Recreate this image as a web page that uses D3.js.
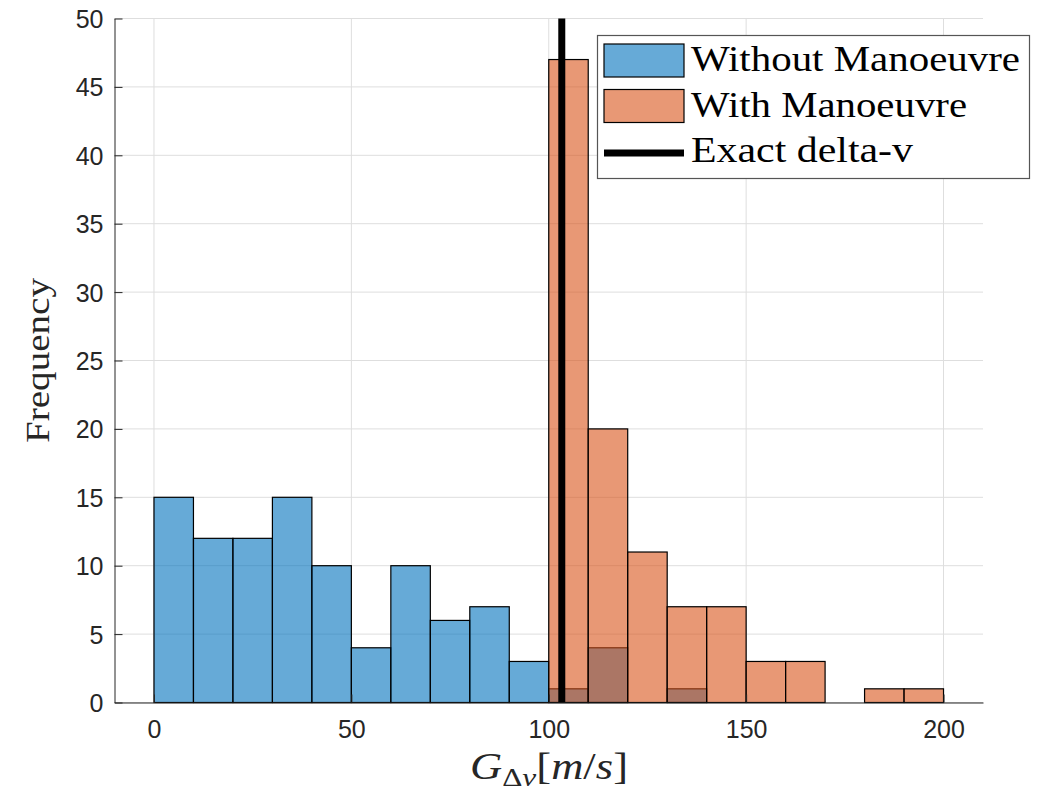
<!DOCTYPE html>
<html>
<head>
<meta charset="utf-8">
<script src="https://cdn.jsdelivr.net/npm/d3@7"></script>
<style>
  html, body { margin: 0; padding: 0; background: #fff; }
  svg { display: block; }
</style>
</head>
<body>
<svg id="chart" width="1045" height="791"></svg>
<script>
// ---- data ----
const binWidth = 10;
const withoutStarts = [0, 10, 20, 30, 40, 50, 60, 70, 80, 90, 100, 110, 120, 130];
const withoutCounts = [15, 12, 12, 15, 10, 4, 10, 6, 7, 3, 1, 4, 0, 1];
const withStarts = [100, 110, 120, 130, 140, 150, 160, 170, 180, 190];
const withCounts = [47, 20, 11, 7, 7, 3, 3, 0, 1, 1];
const exactDeltaV = 103.3;
const xTicks = [0, 50, 100, 150, 200];
const yTicks = [0, 5, 10, 15, 20, 25, 30, 35, 40, 45, 50];
const legendLabels = ["Without Manoeuvre", "With Manoeuvre", "Exact delta-v"];

// ---- layout ----
const svg = d3.select("#chart");
const x = d3.scaleLinear().domain([-10, 210]).range([114.5, 983]);
const y = d3.scaleLinear().domain([0, 50]).range([702.5, 18.5]);
const axisColor = "#262626";
const blue = "#0072BD", orange = "#D95319";

// grid
const grid = svg.append("g");
grid.selectAll("line.gx").data(xTicks).join("line")
  .attr("x1", d => x(d)).attr("x2", d => x(d))
  .attr("y1", y(0)).attr("y2", y(50))
  .attr("stroke", "#dedede").attr("stroke-width", 1);
grid.selectAll("line.gy").data(yTicks).join("line")
  .attr("x1", x(-10)).attr("x2", x(210))
  .attr("y1", d => y(d)).attr("y2", d => y(d))
  .attr("stroke", "#dedede").attr("stroke-width", 1);

// bars
function drawHist(starts, counts, color) {
  svg.append("g").selectAll("rect").data(starts.map((s, i) => ({s, c: counts[i]}))).join("rect")
    .attr("x", d => x(d.s))
    .attr("width", d => x(d.s + binWidth) - x(d.s))
    .attr("y", d => y(d.c))
    .attr("height", d => y(0) - y(d.c))
    .attr("fill", color).attr("fill-opacity", 0.6)
    .attr("stroke", "#000").attr("stroke-width", 1.2);
}
drawHist(withoutStarts, withoutCounts, blue);
drawHist(withStarts, withCounts, orange);

// exact line
svg.append("line")
  .attr("x1", x(exactDeltaV)).attr("x2", x(exactDeltaV))
  .attr("y1", y(50)).attr("y2", y(0))
  .attr("stroke", "#000").attr("stroke-width", 7);

// axes
const xAxis = d3.axisBottom(x).tickValues(xTicks).tickSizeInner(-8).tickSizeOuter(0).tickPadding(18);
const gx = svg.append("g").attr("transform", `translate(0,${y(0)})`).call(xAxis);
const yAxis = d3.axisLeft(y).tickValues(yTicks).tickSizeInner(-8).tickSizeOuter(0).tickPadding(11);
const gy = svg.append("g").attr("transform", `translate(${x(-10)},0)`).call(yAxis);
[gx, gy].forEach(g => {
  g.select(".domain").attr("stroke", axisColor).attr("stroke-width", 1);
  g.selectAll(".tick line").attr("stroke", axisColor).attr("stroke-width", 1);
  g.selectAll(".tick text").attr("fill", axisColor)
    .style("font-family", "'Liberation Sans', Arial, sans-serif").style("font-size", "25px");
});
gx.selectAll(".tick text").attr("dy", "0.71em");
gy.selectAll(".tick text").attr("dy", "0.36em");

// y label
svg.append("text")
  .attr("transform", `translate(49,${(278 + 443) / 2}) rotate(-90)`)
  .attr("text-anchor", "middle")
  .attr("fill", axisColor)
  .style("font-family", "'Liberation Serif', 'Times New Roman', serif")
  .style("font-size", "34px")
  .attr("textLength", 165).attr("lengthAdjust", "spacingAndGlyphs")
  .text("Frequency");

// x label
const xl = svg.append("text")
  .attr("x", 470).attr("y", 779)
  .attr("fill", axisColor)
  .attr("textLength", 158).attr("lengthAdjust", "spacingAndGlyphs")
  .style("font-family", "'Liberation Serif', 'Times New Roman', serif")
  .style("font-size", "37px");
xl.append("tspan").style("font-style", "italic").text("G");
xl.append("tspan").attr("dy", 7).style("font-size", "26px").text("Δ");
xl.append("tspan").style("font-size", "26px").style("font-style", "italic").text("v");
xl.append("tspan").attr("dy", -7).text("[");
xl.append("tspan").style("font-style", "italic").text("m");
xl.append("tspan").text("/");
xl.append("tspan").style("font-style", "italic").text("s");
xl.append("tspan").text("]");

// legend
const lg = svg.append("g");
lg.append("rect").attr("x", 597.5).attr("y", 35.5).attr("width", 432).attr("height", 143)
  .attr("fill", "#fff").attr("stroke", "#555").attr("stroke-width", 1.2);
const swatches = [blue, orange];
swatches.forEach((c, i) => {
  lg.append("rect").attr("x", 604).attr("y", 44 + i * 45.5).attr("width", 80).attr("height", 33)
    .attr("fill", c).attr("fill-opacity", 0.6).attr("stroke", "#000").attr("stroke-width", 1.2);
});
lg.append("line").attr("x1", 604).attr("x2", 684).attr("y1", 153).attr("y2", 153)
  .attr("stroke", "#000").attr("stroke-width", 7);
const legendWidths = [329, 276, 222];
legendLabels.forEach((t, i) => {
  lg.append("text").attr("x", 691).attr("y", 71 + i * 45.5)
    .style("font-family", "'Liberation Serif', 'Times New Roman', serif")
    .style("font-size", "35px").attr("fill", "#000")
    .attr("textLength", legendWidths[i]).attr("lengthAdjust", "spacingAndGlyphs")
    .text(t);
});
</script>
</body>
</html>
